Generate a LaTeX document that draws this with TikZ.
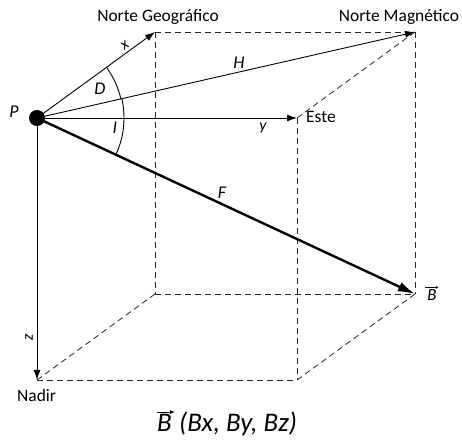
\documentclass[tikz,border=0pt]{standalone}
\usepackage{fontspec}
\setmainfont{Carlito}
\usetikzlibrary{arrows.meta}
\tikzset{
  vec/.style={line width=0.9bp,-{Latex[length=10bp,width=7bp]}},
  vecF/.style={line width=2.4bp,-{Latex[length=17bp,width=10bp]}},
  dsh/.style={line width=0.8bp,dash pattern=on 6bp off 4bp,draw=black!85},
  lbl/.style={inner sep=0pt,font=\fontsize{17.5}{20}\selectfont},
  ilbl/.style={inner sep=0pt,font=\fontsize{18}{21}\selectfont\itshape},
  slbl/.style={inner sep=0pt,font=\fontsize{16}{19}\selectfont\itshape},
}
\begin{document}
\begin{tikzpicture}[x=1bp,y=1bp]
\useasboundingbox (0,0) rectangle (462,444);
% points
\coordinate (P) at (37,326);
\coordinate (NG) at (155,412);
\coordinate (NM) at (415,412);
\coordinate (E) at (297,326);
\coordinate (N) at (37,64);
\coordinate (BB) at (155,150);
\coordinate (B) at (415,150);
\coordinate (BF) at (297,64);
% dashed box
\draw[dsh] (NG) -- (NM);
\draw[dsh] (NG) -- (BB);
\draw[dsh] (NM) -- (B);
\draw[dsh] (E) -- (NM);
\draw[dsh] (E) -- (BF);
\draw[dsh] (BB) -- (B);
\draw[dsh] (N) -- (BB);
\draw[dsh] (N) -- (BF);
\draw[dsh] (BF) -- (B);
% vectors
\draw[vec] (P) -- (NG);
\draw[vec] (P) -- (NM);
\draw[vec] (P) -- (E);
\draw[vec] (P) -- (N);
\draw[vecF] (P) -- (B);
% arcs
\draw[line width=0.9bp] ([shift={(36.1:86)}]P) arc[start angle=36.1,end angle=12.8,radius=86];
\draw[line width=0.9bp] ([shift={(12.8:87)}]P) arc[start angle=12.8,end angle=-24.9,radius=87];
% dot
\fill (P) circle (8);
% labels
\node[ilbl] (lP) at (14,332) {P};
\node[ilbl] (lD) at (100,355) {D};
\node[ilbl] (lI) at (115,316) {I};
\node[ilbl] (lH) at (239,381) {H};
\node[ilbl] (lF) at (222,251) {F};
\node[slbl] (ly) at (263,316) {y};
\node[slbl,rotate=36] (lx) at (125,399) {x};
\node[slbl,rotate=90] (lz) at (29,107) {z};
\node[lbl,anchor=base] (tNG) at (158,422) {Norte Geográfico};
\node[lbl,anchor=base] (tNM) at (399,422) {Norte Magnético};
\node[lbl,anchor=base west] (tE) at (306,321) {Este};
\node[lbl,anchor=base west] (tN) at (17,42) {Nadir};
% B label
\node[inner sep=0pt,font=\fontsize{17}{20}\selectfont\itshape] (lB) at (432,149) {B};
\draw[line width=0.6bp,-{Latex[length=3bp,width=3bp]}] ([xshift=-2bp,yshift=2bp]lB.north west) -- ([xshift=2bp,yshift=2bp]lB.north east);
% caption
\node[inner sep=0pt,anchor=base west,font=\fontsize{27}{31}\selectfont\itshape] (cB) at (157,12) {B};
\node[inner sep=0pt,anchor=base west,font=\fontsize{27}{31}\selectfont\itshape] (cR) at ([xshift=7bp]cB.base east) {(Bx, By, Bz)};
\draw[line width=1bp,-{Latex[length=5bp,width=4bp]}] ([xshift=0bp,yshift=2.5bp]cB.north west) -- ([xshift=3bp,yshift=2.5bp]cB.north east);
\end{tikzpicture}
\end{document}
